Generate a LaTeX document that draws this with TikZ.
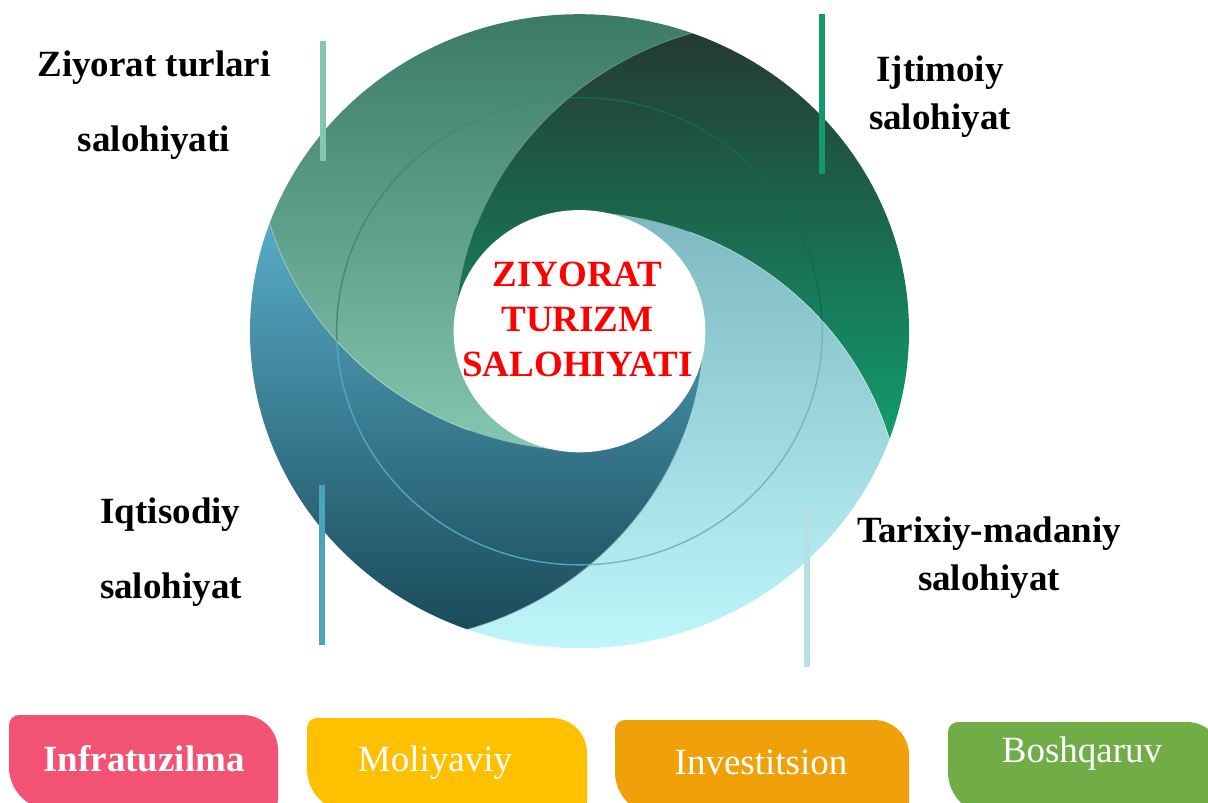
\documentclass[tikz,border=0pt]{standalone}
\usepackage{fontspec}
\setmainfont{Liberation Serif}
\usetikzlibrary{positioning, calc}

\begin{document}
\begin{tikzpicture}[x=0.5pt, y=-0.5pt, line cap=round, line join=round]
		
		%======================
		% PARAMETERS (edit here)
		%======================
		\def\dd{0.623}       % distance of the blade circles from the middle
		\def\tw{-1.7}        % angle of the first blade circle
		\def\rin{0.382}      % white disk
		\def\rring{0.737}    % thin ring
		
		\pgfmathsetmacro{\aA}{\tw}
		\pgfmathsetmacro{\aB}{\tw-90}
		\pgfmathsetmacro{\aC}{\tw-180}
		\pgfmathsetmacro{\aD}{\tw-270}
		
		%======================
		% COLOURS
		%======================
		\definecolor{gdTop}{HTML}{243A33}  \definecolor{gdBot}{HTML}{119C6D}  \definecolor{gdRing}{HTML}{0F6B4C}
		\definecolor{ltTop}{HTML}{7DB8C0}  \definecolor{ltBot}{HTML}{BEF6FA}  \definecolor{ltRing}{HTML}{7BB3B8}
		\definecolor{dtTop}{HTML}{58ABC6}  \definecolor{dtBot}{HTML}{1A4B5A}  \definecolor{dtRing}{HTML}{4FA7C4}
		\definecolor{lgTop}{HTML}{3A7A67}  \definecolor{lgBot}{HTML}{86C7B0}  \definecolor{lgRing}{HTML}{478872}
		\definecolor{barA}{HTML}{85C6B0}
		\definecolor{barB}{HTML}{129A6C}
		\definecolor{barC}{HTML}{4CA3BE}
		\definecolor{barD}{HTML}{B5E0E5}
		\definecolor{tabA}{HTML}{F25374}
		\definecolor{tabB}{HTML}{FFC000}
		\definecolor{tabC}{HTML}{F0A10A}
		\definecolor{tabD}{HTML}{70AD47}
		
		%======================
		% STYLES
		%======================
		\tikzset{
			lbl/.style={font=\fontsize{18.5}{22}\selectfont\bfseries, inner sep=0pt, anchor=base},
			core/.style={font=\fontsize{18.5}{22.6}\selectfont\bfseries, text=red, align=center, inner sep=0pt},
			tabtext/.style={font=\fontsize{18.5}{22}\selectfont, text=white, inner sep=0pt, anchor=base},
			bar/.style={line width=3pt, line cap=butt},
			ringline/.style={line width=0.7pt},
			seam/.style={white, opacity=0.4, line width=0.6pt}
		}
		
		% Utility: corner of the inner square, painted in the colours of one blade
		\newcommand{\wedgefill}[5]{% #1=mid angle, #2/#3=colours, #4/#5=top/bottom
			\begin{scope}
				\clip (0,0) -- ({#1-45}:0.6) arc[start angle={#1-45}, end angle={#1+45}, radius=0.6] -- cycle;
				\shade[top color=#2, bottom color=#3] (-1.1,#4) rectangle (1.1,#5);
			\end{scope}
		}
		
		% Utility: blade = outer disk, inside circle #1, outside circle #2
		\newcommand{\blade}[7]{% #3/#4=colours, #5/#6=top/bottom, #7=ring colour
			\begin{scope}
				\clip (0,0) circle (1);
				\clip (#1:\dd) circle (1);
				\clip (-2,-2) -- (-2,2) -- (2,2) -- (2,-2) -- cycle (#2:\dd) circle (1);
				\shade[top color=#3, bottom color=#4] (-1.1,#5) rectangle (1.1,#6);
				\draw[ringline, #7] (0,0) circle (\rring);
				\draw[seam] (#1:\dd) circle (1);
			\end{scope}
		}
		
		% Utility: bottom tab with one large and one small rounding on each diagonal
		\newcommand{\tabbox}[5]{% #1=left, #2=top, #3=right, #4=bottom, #5=colour
			\fill[#5] (#1,#2+10) .. controls (#1,#2+4.5) and (#1+4.5,#2) .. (#1+10,#2)
			-- (#3-35,#2) .. controls (#3-15.7,#2) and (#3,#2+15.7) .. (#3,#2+35)
			-- (#3,#4-10) .. controls (#3,#4-4.5) and (#3-4.5,#4) .. (#3-10,#4)
			-- (#1+43,#4) .. controls (#1+19.3,#4) and (#1,#4-19.3) .. (#1,#4-43) -- cycle;
		}
		
		\useasboundingbox (0,0) rectangle (1208,802);
		\clip (0,0) rectangle (1208,802);
		
		%----------------------
		% Wheel
		%----------------------
		\begin{scope}[shift={(579.5,331.2)}, x=164.75pt, y=158.5pt]
			\wedgefill{\aA+135}{gdTop}{gdBot}{0.94}{-0.337}
			\wedgefill{\aB+135}{ltTop}{ltBot}{0.382}{-1.0}
			\wedgefill{\aC+135}{dtTop}{dtBot}{0.341}{-0.94}
			\wedgefill{\aD+135}{lgTop}{lgBot}{1.0}{-0.381}
			
			\blade{\aA}{\aB}{gdTop}{gdBot}{0.94}{-0.337}{gdRing}
			\blade{\aB}{\aC}{ltTop}{ltBot}{0.382}{-1.0}{ltRing}
			\blade{\aC}{\aD}{dtTop}{dtBot}{0.341}{-0.94}{dtRing}
			\blade{\aD}{\aA}{lgTop}{lgBot}{1.0}{-0.381}{lgRing}
			
			\fill[white] (0,0) circle (\rin);
		\end{scope}
		
		% base of a multi-line node = last line
		\node[core, anchor=base] (core) at (577.5,376.7) {ZIYORAT\\TURIZM\\SALOHIYATI};
		
		%----------------------
		% Bars and labels
		%----------------------
		\draw[bar, barA] (323,41) -- (323,161);
		\draw[bar, barB] (822,14) -- (822,174);
		\draw[bar, barC] (322,485) -- (322,645);
		\draw[bar, barD] (807,507) -- (807,667);
		
		\node[lbl] (zt1) at (154,77) {Ziyorat turlari};
		\node[lbl] (zt2) at (154,152) {salohiyati};
		\node[lbl] (ij1) at (940,82) {Ijtimoiy};
		\node[lbl] (ij2) at (940,130) {salohiyat};
		\node[lbl] (iq1) at (170.5,523) {Iqtisodiy};
		\node[lbl] (iq2) at (171,598) {salohiyat};
		\node[lbl] (tm1) at (989,542) {Tarixiy-madaniy};
		\node[lbl] (tm2) at (989,590) {salohiyat};
		
		%----------------------
		% Bottom tabs
		%----------------------
		\tabbox{9}{715}{278}{810}{tabA}
		\tabbox{307}{718}{587}{812}{tabB}
		\tabbox{615}{720}{909}{815}{tabC}
		\tabbox{948}{722}{1222}{815}{tabD}
		
		\node[tabtext, font=\fontsize{18.5}{22}\selectfont\bfseries] (infra) at (144,771) {Infratuzilma};
		\node[tabtext] (moliya) at (435,771) {Moliyaviy};
		\node[tabtext] (invest) at (761,774) {Investitsion};
		\node[tabtext] (boshq) at (1082,762) {Boshqaruv};
		
	\end{tikzpicture}
\end{document}
